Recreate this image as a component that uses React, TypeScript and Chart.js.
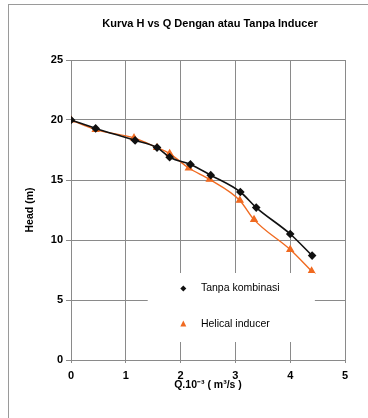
import React, { useEffect, useRef } from "react";
import { Chart, registerables } from "chart.js";

Chart.register(...registerables);

const titleText = "Kurva H vs Q Dengan atau Tanpa Inducer";
const xAxisTitle = "Q.10⁻³ ( m³/s )";
const yAxisTitle = "Head (m)";
const seriesNames = ["Tanpa kombinasi", "Helical inducer"];

const qTanpa = [0, 0.45, 1.17, 1.57, 1.8, 2.18, 2.55, 3.09, 3.38, 4.0, 4.4];
const hTanpa = [20, 19.3, 18.3, 17.7, 16.9, 16.3, 15.4, 14.0, 12.7, 10.5, 8.7];
const qHelical = [0, 0.45, 1.15, 1.57, 1.8, 2.15, 2.53, 3.08, 3.34, 4.0, 4.39];
const hHelical = [20, 19.2, 18.5, 17.7, 17.2, 16.0, 15.05, 13.3, 11.7, 9.2, 7.4];

const xTicks = [0, 1, 2, 3, 4, 5];
const yTicks = [0, 5, 10, 15, 20, 25];

const BLACK = "#111111";
const ORANGE = "#f06a20";
const GRID = "#8a8a8a";
const FONT = "'Liberation Sans', Arial, sans-serif";

const overlayPlugin = {
  id: "overlay",
  afterDatasetsDraw(chart: any) {
    const { ctx, chartArea, scales } = chart;
    ctx.save();
    // legend box inside plot
    const lx = scales.x.getPixelForValue(1.4);
    const rx = scales.x.getPixelForValue(4.45);
    const ty = scales.y.getPixelForValue(7.25);
    const by = scales.y.getPixelForValue(1.5);
    ctx.fillStyle = "#ffffff";
    ctx.fillRect(lx, ty, rx - lx, by - ty);
    const mx = scales.x.getPixelForValue(2.05);
    const tx = scales.x.getPixelForValue(2.37);
    const y1 = scales.y.getPixelForValue(5.95);
    const y2 = scales.y.getPixelForValue(3.0);
    // markers
    ctx.fillStyle = BLACK;
    ctx.beginPath();
    ctx.moveTo(mx, y1 - 3);
    ctx.lineTo(mx + 3, y1);
    ctx.lineTo(mx, y1 + 3);
    ctx.lineTo(mx - 3, y1);
    ctx.closePath();
    ctx.fill();
    ctx.fillStyle = ORANGE;
    ctx.beginPath();
    ctx.moveTo(mx, y2 - 3.5);
    ctx.lineTo(mx + 3, y2 + 2.5);
    ctx.lineTo(mx - 3, y2 + 2.5);
    ctx.closePath();
    ctx.fill();
    ctx.fillStyle = "#000";
    ctx.font = `10.5px ${FONT}`;
    ctx.textAlign = "left";
    ctx.textBaseline = "middle";
    ctx.fillText(seriesNames[0], tx, y1);
    ctx.fillText(seriesNames[1], tx, y2);
    ctx.restore();
  },
  afterDraw(chart: any) {
    const { ctx, chartArea } = chart;
    ctx.save();
    ctx.fillStyle = "#000";
    ctx.font = `bold 11px ${FONT}`;
    ctx.textAlign = "center";
    ctx.textBaseline = "middle";
    const cx = (chartArea.left + chartArea.right) / 2 + 2;
    ctx.fillText(titleText, cx, 24);
    ctx.font = `bold 10.5px ${FONT}`;
    ctx.fillText(xAxisTitle, cx - 2, 385);
    ctx.translate(30, (chartArea.top + chartArea.bottom) / 2);
    ctx.rotate(-Math.PI / 2);
    ctx.fillText(yAxisTitle, 0, 0);
    ctx.restore();
  },
};

export default function App() {
  const canvasRef = useRef<HTMLCanvasElement | null>(null);

  useEffect(() => {
    if (!canvasRef.current) return;
    const chart = new Chart(canvasRef.current, {
      type: "scatter",
      data: {
        datasets: [
          {
            label: seriesNames[0],
            data: qTanpa.map((q, i) => ({ x: q, y: hTanpa[i] })),
            showLine: true,
            borderColor: BLACK,
            backgroundColor: BLACK,
            borderWidth: 1.6,
            pointStyle: "rectRot",
            pointRadius: 3.2,
            pointHoverRadius: 3.2,
            cubicInterpolationMode: "monotone",
          },
          {
            label: seriesNames[1],
            data: qHelical.map((q, i) => ({ x: q, y: hHelical[i] })),
            showLine: true,
            borderColor: ORANGE,
            backgroundColor: ORANGE,
            borderWidth: 1.4,
            pointStyle: "triangle",
            pointRadius: 3.5,
            pointHoverRadius: 3.5,
            cubicInterpolationMode: "monotone",
          },
        ],
      },
      options: {
        animation: false,
        responsive: false,
        maintainAspectRatio: false,
        layout: { padding: { left: 0, top: 60, right: 23, bottom: 0 } },
        plugins: {
          legend: { display: false },
          title: { display: false },
          tooltip: { enabled: false },
        },
        scales: {
          x: {
            type: "linear",
            min: 0,
            max: 5,
            afterBuildTicks: (s: any) => {
              s.ticks = xTicks.map((v) => ({ value: v }));
            },
            afterFit: (s: any) => {
              s.height = 58;
            },
            grid: {
              color: GRID,
              lineWidth: 1,
              drawTicks: true,
              tickLength: 3,
            },
            border: { color: GRID, width: 1 },
            ticks: {
              color: "#000",
              padding: 6,
              font: { family: FONT, size: 11, weight: "bold" },
            },
          },
          y: {
            type: "linear",
            min: 0,
            max: 25,
            afterBuildTicks: (s: any) => {
              s.ticks = yTicks.map((v) => ({ value: v }));
            },
            afterFit: (s: any) => {
              s.width = 71;
            },
            grid: {
              color: GRID,
              lineWidth: 1,
              drawTicks: true,
              tickLength: 5,
            },
            border: { color: GRID, width: 1 },
            ticks: {
              color: "#000",
              padding: 3,
              font: { family: FONT, size: 11, weight: "bold" },
            },
          },
        },
      },
      plugins: [overlayPlugin],
    });
    return () => chart.destroy();
  }, []);

  return (
    <div
      style={{
        position: "fixed",
        left: 0,
        top: 0,
        width: 368,
        height: 418,
        background: "#fff",
        overflow: "hidden",
      }}
    >
      <div
        style={{
          position: "absolute",
          left: 8,
          top: 4,
          width: 400,
          height: 440,
          borderLeft: "1px solid #9a9a9a",
          borderTop: "1px solid #9a9a9a",
        }}
      />
      <canvas
        ref={canvasRef}
        width={368}
        height={418}
        style={{ position: "absolute", left: 0, top: 0, width: 368, height: 418 }}
      />
    </div>
  );
}
